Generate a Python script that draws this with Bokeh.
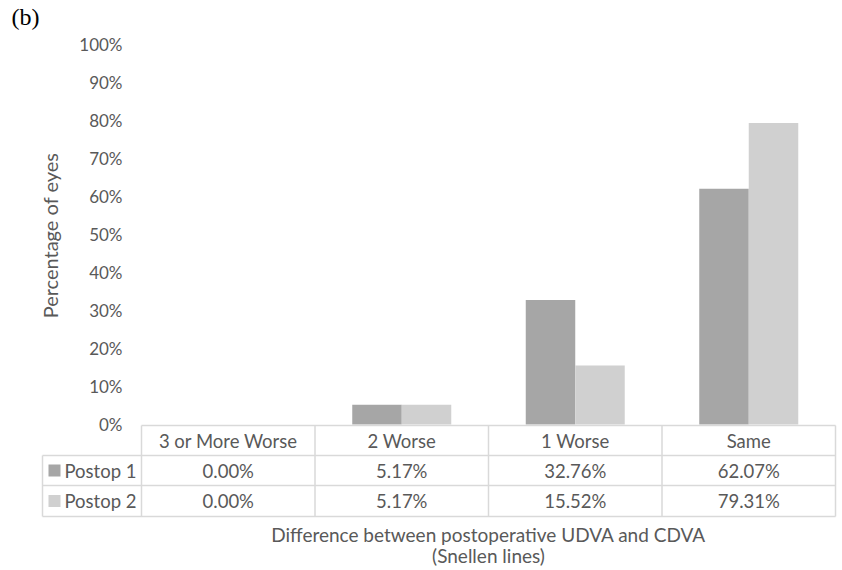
import numpy as np
from bokeh.plotting import figure
from bokeh.models import Range1d
from bokeh.core.properties import value
from bokeh.embed import file_html
from bokeh.resources import INLINE

categories = ["3 or More Worse", "2 Worse", "1 Worse", "Same"]
postop1 = [0.0, 5.17, 32.76, 62.07]
postop2 = [0.0, 5.17, 15.52, 79.31]
series_names = ["Postop 1", "Postop 2"]
series_colors = ["#a6a6a6", "#d0d0d0"]
y_ticks = [0, 10, 20, 30, 40, 50, 60, 70, 80, 90, 100]
y_tick_labels = [f"{t}%" for t in y_ticks]
x_title = ["Difference between postoperative UDVA and CDVA", "(Snellen lines)"]
y_title = "Percentage of eyes"
panel_label = "(b)"

W, H = 838, 566
OFF = 0                     # canvas origin in picture pixels
X0, X4 = 141.0, 835.0       # category band left / right edges
Y0, Y100 = 424.0, 44.0      # 0% and 100% lines
ppu_x = (X4 - X0) / len(categories)
ppu_y = (Y0 - Y100) / 100.0

def ux(px):
    return (px - X0) / ppu_x

def vy(py):
    return (Y0 - py) / ppu_y

FONT = value("Lato")
TXT = "#595959"
GRID = "#d9d9d9"
FS_TICK = "17px"
FS_TAB = "18.5px"
FS_TITLE = "19px"

p = figure(width=W, height=H, output_backend="svg", toolbar_location=None,
           x_range=Range1d(ux(OFF), ux(OFF + W)), y_range=Range1d(vy(OFF + H), vy(OFF)),
           min_border=0, outline_line_color=None)
p.axis.visible = False
p.grid.visible = False

n = len(categories)
centers = np.arange(n) + 0.5
bw = 49.5 / ppu_x
p.vbar(x=centers - bw / 2, top=postop1, bottom=0, width=bw, fill_color=series_colors[0], line_color=None)
p.vbar(x=centers + bw / 2, top=postop2, bottom=0, width=bw, fill_color=series_colors[1], line_color=None)

# y tick labels
p.text(x=[ux(122)] * len(y_ticks), y=y_ticks, text=y_tick_labels, text_align="right",
       text_baseline="middle", text_color=TXT, text_font=FONT, text_font_size=FS_TICK)

# data table
r_top, r1, r2, r_bot = vy(425), vy(455), vy(485), vy(516)
xl = ux(42)
hx0 = [0, xl, xl, xl]
hx1 = [n, n, n, n]
hy = [r_top, r1, r2, r_bot]
p.segment(x0=hx0, y0=hy, x1=hx1, y1=hy, line_color=GRID, line_width=1.5)
vx = [xl] + list(range(n + 1))
vy0 = [r1] + [r_top] * (n + 1)
vy1 = [r_bot] * (n + 2)
p.segment(x0=vx, y0=vy0, x1=vx, y1=vy1, line_color=GRID, line_width=1.5)

row_c = [(r_top + r1) / 2, (r1 + r2) / 2, (r2 + r_bot) / 2]
p.text(x=centers, y=[row_c[0]] * n, text=categories, text_align="center", text_baseline="middle",
       text_color=TXT, text_font=FONT, text_font_size=FS_TAB)
for k, vals in enumerate([postop1, postop2]):
    p.text(x=centers, y=[row_c[k + 1]] * n, text=[f"{v:.2f}%" for v in vals], text_align="center",
           text_baseline="middle", text_color=TXT, text_font=FONT, text_font_size=FS_TAB)
    p.scatter(x=[ux(54)], y=[row_c[k + 1]], marker="square", size=12,
              fill_color=series_colors[k], line_color=None)
    p.text(x=[ux(64)], y=[row_c[k + 1]], text=[series_names[k]], text_align="left",
           text_baseline="middle", text_color=TXT, text_font=FONT, text_font_size=FS_TAB)

# axis titles
p.text(x=[n / 2, n / 2], y=[vy(534), vy(555)], text=x_title, text_align="center",
       text_baseline="middle", text_color=TXT, text_font=FONT, text_font_size=FS_TITLE)
p.text(x=[ux(49)], y=[vy(235)], text=[y_title], angle=np.pi / 2, text_align="center",
       text_baseline="middle", text_color=TXT, text_font=FONT, text_font_size="20px")

p.text(x=[ux(11)], y=[vy(16)], text=[panel_label], text_align="left", text_baseline="middle",
       text_color="black", text_font=value("Liberation Serif"), text_font_size="24px")

open("out.html", "w").write(file_html(p, INLINE))
